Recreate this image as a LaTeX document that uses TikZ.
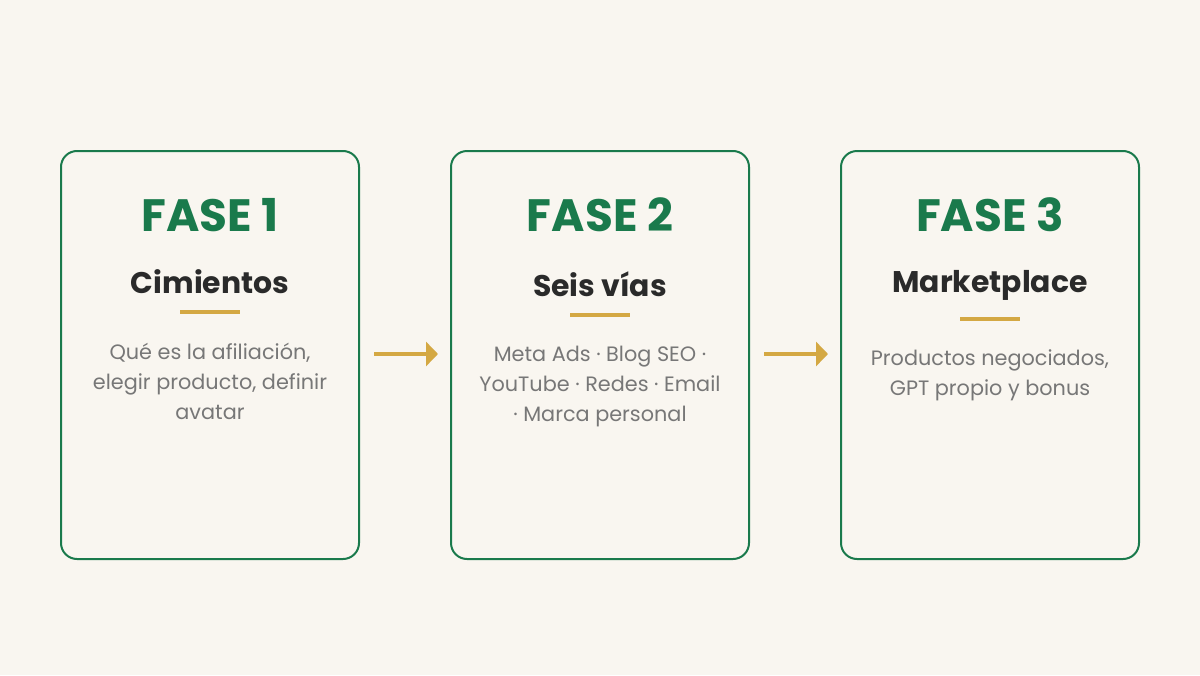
\documentclass[tikz,border=0pt]{standalone}
\usepackage{fontspec}
\setmainfont{Poppins}
\usetikzlibrary{positioning,arrows.meta}
\definecolor{bgcream}{HTML}{F9F6F0}
\definecolor{fasegreen}{HTML}{1A7A4C}
\definecolor{gold}{HTML}{D4A843}
\definecolor{darktext}{HTML}{2A2A2A}
\definecolor{graytext}{HTML}{777777}
\tikzset{
  phase/.style={draw=fasegreen, line width=1.5pt, rounded corners=12pt, fill=bgcream},
  title/.style={text=fasegreen, font=\fontsize{34}{40}\selectfont\bfseries},
  subtitle/.style={text=darktext, font=\fontsize{22.4}{26}\selectfont\bfseries},
  body/.style={text=graytext, font=\fontsize{15.6}{22.5}\selectfont, align=center},
  goldline/.style={gold, line width=2.3pt},
  flow/.style={gold, line width=3pt, -{Triangle[length=9pt,width=18pt]}}
}
\begin{document}
\begin{tikzpicture}[x=0.75pt, y=-0.75pt]
    \fill[bgcream] (0,0) rectangle (1200,675);
    \useasboundingbox (0,0) rectangle (1200,675);

    \draw[phase] (61,151) rectangle (359,559);
    \draw[phase] (451,151) rectangle (749,559);
    \draw[phase] (841,151) rectangle (1139,559);

    \node[title] at (210,215) (t1) {FASE 1};
    \node[title] at (600,215) (t2) {FASE 2};
    \node[title] at (990,215) (t3) {FASE 3};

    \node[subtitle] at (210,282) (s1) {Cimientos};
    \node[subtitle] at (600,284) (s2) {Seis vías};
    \node[subtitle] at (990,285) (s3) {Marketplace};

    \draw[goldline] (180,312) -- (240,312);
    \draw[goldline] (570,315) -- (630,315);
    \draw[goldline] (960,319) -- (1020,319);

    \node[body, anchor=north] at (210,338) (b1) {Qué es la afiliación,\\ elegir producto, definir\\ avatar};
    \node[body, anchor=north] at (600,341) (b2) {Meta Ads · Blog SEO ·\\ YouTube · Redes · Email\\ · Marca personal};
    \node[body, anchor=north] at (990,345) (b3) {Productos negociados,\\ GPT propio y bonus};

    \coordinate (a1) at (374,354);
    \coordinate (a2) at (438,354);
    \coordinate (a3) at (764,354);
    \coordinate (a4) at (828,354);
    \draw[flow] (a1) -- (a2);
    \draw[flow] (a3) -- (a4);
\end{tikzpicture}
\end{document}
